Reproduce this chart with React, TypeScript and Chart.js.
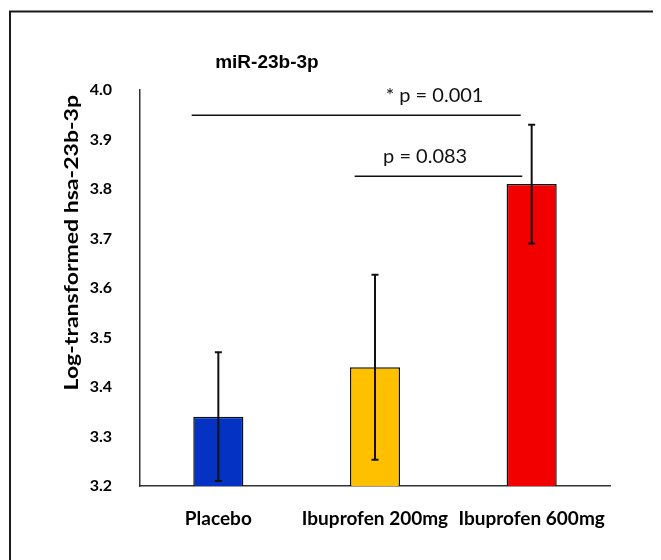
import React, { useEffect, useRef } from "react";
import { Chart, registerables } from "chart.js";

Chart.register(...registerables);

const categories = ["Placebo", "Ibuprofen 200mg", "Ibuprofen 600mg"];
const means = [3.34, 3.44, 3.81];
const errors = [0.13, 0.187, 0.12];
const barColors = ["#0433C4", "#FFC000", "#F20000"];
const yTicks = [3.2, 3.3, 3.4, 3.5, 3.6, 3.7, 3.8, 3.9, 4.0];

const chartTitle = "miR-23b-3p";
const yTitle = "Log-transformed hsa-23b-3p";

// significance brackets in data coordinates (category index, value)
const sigFrom = [-0.17, 0.87];
const sigTo = [1.93, 1.94];
const sigLevel = [3.949, 3.826];
const sigLabels = ["* p = 0.001", "p = 0.083"];
const sigLabelX = [1.38, 1.32];
const sigLabelY = [3.988, 3.865];

const titlePos = { index: 0.31, value: 4.055 };

const overlayPlugin = {
  id: "overlay",
  beforeDraw(chart: any) {
    const { ctx, width, height } = chart;
    ctx.save();
    ctx.strokeStyle = "#1a1a1a";
    ctx.lineWidth = 2;
    ctx.beginPath();
    ctx.moveTo(2, height + 5);
    ctx.lineTo(2, 3.5);
    ctx.lineTo(width + 5, 3.5);
    ctx.stroke();
    ctx.restore();
  },
  afterDatasetsDraw(chart: any) {
    const { ctx, chartArea } = chart;
    const xs = chart.scales.x;
    const ys = chart.scales.y;
    ctx.save();
    // error bars
    ctx.strokeStyle = "#111";
    ctx.lineWidth = 2;
    means.forEach((m, i) => {
      const x = xs.getPixelForValue(i);
      const yt = ys.getPixelForValue(m + errors[i]);
      const yb = ys.getPixelForValue(m - errors[i]);
      ctx.beginPath();
      ctx.moveTo(x, yt);
      ctx.lineTo(x, yb);
      ctx.moveTo(x - 3.5, yt);
      ctx.lineTo(x + 3.5, yt);
      ctx.moveTo(x - 3.5, yb);
      ctx.lineTo(x + 3.5, yb);
      ctx.stroke();
    });
    // significance lines
    ctx.lineWidth = 1.5;
    ctx.fillStyle = "#111";
    ctx.font = "20px Lato";
    ctx.textAlign = "center";
    ctx.textBaseline = "middle";
    sigLevel.forEach((lv, i) => {
      const y = ys.getPixelForValue(lv);
      ctx.beginPath();
      ctx.moveTo(xs.getPixelForValue(sigFrom[i]), y);
      ctx.lineTo(xs.getPixelForValue(sigTo[i]), y);
      ctx.stroke();
      ctx.fillText(sigLabels[i], xs.getPixelForValue(sigLabelX[i]), ys.getPixelForValue(sigLabelY[i]));
    });
    // title
    ctx.fillStyle = "#000";
    ctx.font = "bold 19px 'Liberation Sans'";
    ctx.fillText(chartTitle, xs.getPixelForValue(titlePos.index), ys.getPixelForValue(titlePos.value));
    // y axis title (slightly stretched along its length)
    ctx.save();
    ctx.translate(64, chartArea.top + 5);
    ctx.rotate(-Math.PI / 2);
    ctx.scale(1.28, 1);
    ctx.font = "bold 18px Lato";
    ctx.textAlign = "right";
    ctx.textBaseline = "middle";
    ctx.fillText(yTitle, 0, 0);
    ctx.restore();
    ctx.restore();
  },
};

export default function App() {
  const ref = useRef<HTMLCanvasElement | null>(null);
  useEffect(() => {
    if (!ref.current) return;
    const chart = new Chart(ref.current, {
      type: "bar",
      data: {
        labels: categories,
        datasets: [
          {
            data: means,
            backgroundColor: barColors,
            borderColor: "#111",
            borderWidth: 1.5,
            barPercentage: 0.32,
            categoryPercentage: 1,
          },
        ],
      },
      options: {
        responsive: false,
        animation: false,
        layout: { padding: { left: 0, top: 82, right: 51, bottom: 0 } },
        plugins: { legend: { display: false }, tooltip: { enabled: false }, title: { display: false } },
        scales: {
          x: {
            grid: { display: false },
            border: { display: true, color: "#333", width: 1.5 },
            ticks: { color: "#000", padding: 13, font: { family: "Lato", weight: "bold", size: 19 }, maxRotation: 0 },
            afterFit: (s: any) => { s.height = 74; },
          },
          y: {
            min: 3.2,
            max: 4.0,
            afterBuildTicks: (s: any) => { s.ticks = yTicks.map((v) => ({ value: v })); },
            grid: { display: false },
            border: { display: true, color: "#333", width: 1.5 },
            ticks: {
              color: "#000",
              padding: 20,
              font: { family: "Lato", weight: "bold", size: 16 },
              callback: (v: any) => Number(v).toFixed(1),
            },
            afterFit: (s: any) => { s.width = 132; },
          },
        },
      },
      plugins: [overlayPlugin],
    });
    return () => chart.destroy();
  }, []);
  return (
    <div style={{ width: 653, height: 552 }}>
      <canvas ref={ref} width={653} height={552} />
    </div>
  );
}
